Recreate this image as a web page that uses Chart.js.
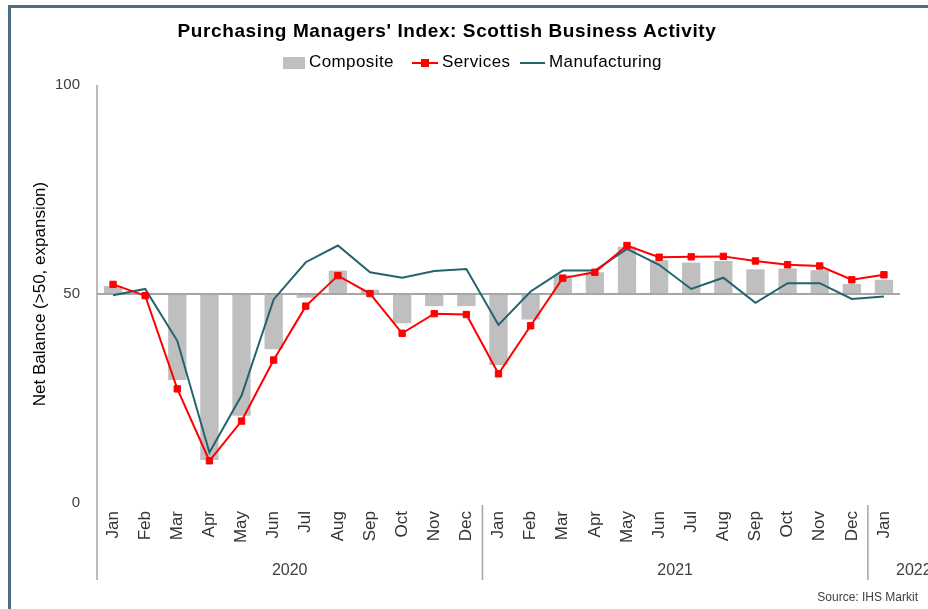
<!DOCTYPE html>
<html>
<head>
<meta charset="utf-8">
<script src="https://cdn.jsdelivr.net/npm/chart.js@4.4.1/dist/chart.umd.min.js"></script>
<style>
  html, body { margin: 0; padding: 0; background: #fff; }
  #wrap { position: relative; width: 928px; height: 609px; overflow: hidden; font-family: "Liberation Sans", Arial, sans-serif; }
  #frame { position: absolute; left: 8px; top: 5px; width: 940px; height: 620px; border-left: 3px solid #4d6c80; border-top: 3px solid #4d6c80; box-sizing: border-box; }
  #title { position: absolute; left: 0; width: 894px; top: 20px; text-align: center; font-weight: bold; font-size: 19px; letter-spacing: 0.6px; color: #000; }
  .leg { position: absolute; top: 52px; font-size: 17px; letter-spacing: 0.4px; color: #000; white-space: nowrap; }
  .sw { position: absolute; }
  #source { position: absolute; right: 10px; top: 590px; font-size: 12px; color: #404040; }
  canvas { position: absolute; left: 0; top: 0; }
</style>
</head>
<body>
<div id="wrap">
  <canvas id="pmi" width="928" height="609"></canvas>
  <div id="frame"></div>
  <div id="title">Purchasing Managers' Index: Scottish Business Activity</div>
  <div class="sw" style="left:283px;top:57px;width:22px;height:12px;background:#bfbfbf"></div>
  <div class="leg" style="left:309px">Composite</div>
  <div class="sw" style="left:412px;top:62px;width:26px;height:2px;background:#ff0000"></div>
  <div class="sw" style="left:421px;top:59px;width:8px;height:8px;background:#ff0000"></div>
  <div class="leg" style="left:442px">Services</div>
  <div class="sw" style="left:520px;top:62px;width:25px;height:2px;background:#22646e"></div>
  <div class="leg" style="left:549px">Manufacturing</div>
  <div id="source">Source: IHS Markit</div>
</div>
<script>
// Scottish PMI, Jan 2020 - Jan 2022
const months = ["Jan","Feb","Mar","Apr","May","Jun","Jul","Aug","Sep","Oct","Nov","Dec",
                "Jan","Feb","Mar","Apr","May","Jun","Jul","Aug","Sep","Oct","Nov","Dec","Jan"];
const years = ["2020", "2021", "2022"];
const yearSpans = [12, 12, 1];
const BASE = 50; // bars hang from the 50 no-change line

const composite = [51.9, 50.2, 29.4, 10.3, 20.9, 36.8, 49.1, 55.6, 51.0, 43.0, 47.1, 47.1,
                   33.0, 43.9, 54.5, 55.2, 61.3, 58.1, 57.5, 57.9, 55.9, 56.1, 55.7, 52.4, 53.4];
const services = [52.3, 49.6, 27.3, 10.1, 19.6, 34.2, 47.1, 54.4, 50.1, 40.6, 45.3, 45.1,
                  30.9, 42.4, 53.8, 55.2, 61.6, 58.8, 58.9, 59.0, 57.9, 57.0, 56.7, 53.4, 54.6];
const manufacturing = [49.7, 51.2, 38.8, 12.1, 25.7, 48.7, 57.6, 61.6, 55.2, 53.9, 55.5, 56.0,
                       42.6, 50.6, 55.6, 55.6, 60.8, 57.0, 51.2, 53.9, 47.9, 52.6, 52.6, 48.8, 49.4];

const AXIS_GREY = "#a6a6a6";
const FONT = "'Liberation Sans', Arial, sans-serif";

// Excel-style axis bits: the 50 line, year separators and year labels.
const excelAxes = {
  id: "excelAxes",
  afterDatasetDraw(chart, args) {
    if (args.index !== 0) return; // draw right after the bars
    const { ctx, chartArea } = chart;
    const y50 = chart.scales.y.getPixelForValue(BASE);
    ctx.save();
    ctx.strokeStyle = AXIS_GREY;
    ctx.lineWidth = 2;
    ctx.beginPath();
    ctx.moveTo(chartArea.left, y50);
    ctx.lineTo(chartArea.right, y50);
    ctx.stroke();
    ctx.restore();
  },
  afterDraw(chart) {
    const { ctx, chartArea } = chart;
    const catW = (chartArea.right - chartArea.left) / months.length;
    const bottom = 580;
    ctx.save();
    ctx.strokeStyle = AXIS_GREY;
    ctx.lineWidth = 1.5;
    ctx.beginPath();
    ctx.moveTo(chartArea.left, chartArea.top);
    ctx.lineTo(chartArea.left, bottom);
    ctx.stroke();
    ctx.fillStyle = "#404040";
    ctx.font = "16px " + FONT;
    ctx.textBaseline = "middle";
    let start = 0;
    years.forEach((yr, i) => {
      const x0 = chartArea.left + start * catW;
      const x1 = x0 + yearSpans[i] * catW;
      if (i > 0) {
        ctx.beginPath();
        ctx.moveTo(x0, chartArea.bottom + 2);
        ctx.lineTo(x0, bottom);
        ctx.stroke();
      }
      if (yearSpans[i] > 2) {
        ctx.textAlign = "center";
        ctx.fillText(yr, (x0 + x1) / 2, 571);
      } else {
        ctx.textAlign = "left";
        ctx.fillText(yr, x1 - 4, 571);
      }
      start += yearSpans[i];
    });
    ctx.restore();
  }
};

new Chart(document.getElementById("pmi"), {
  data: {
    labels: months,
    datasets: [
      {
        type: "bar", label: "Composite", order: 3,
        data: composite.map(v => [BASE, v]),
        backgroundColor: "#bfbfbf",
        barPercentage: 0.57, categoryPercentage: 1,
      },
      {
        type: "line", label: "Manufacturing", order: 2,
        data: manufacturing,
        borderColor: "#22646e", borderWidth: 2,
        pointRadius: 0, tension: 0,
      },
      {
        type: "line", label: "Services", order: 1,
        data: services,
        borderColor: "#ff0000", borderWidth: 2,
        pointStyle: "rect", pointRadius: 4.5, pointBorderWidth: 1,
        pointBackgroundColor: "#ff0000", pointBorderColor: "#ff0000",
        tension: 0,
      },
    ],
  },
  options: {
    responsive: false,
    animation: false,
    layout: { padding: { top: 85, right: 28, left: 0, bottom: 0 } },
    plugins: { legend: { display: false }, title: { display: false }, tooltip: { enabled: false } },
    scales: {
      x: {
        type: "category", offset: true,
        grid: { display: false, drawTicks: false },
        border: { display: false },
        ticks: {
          autoSkip: false, maxRotation: 90, minRotation: 90, padding: 8,
          color: "#333", font: { family: FONT, size: 17 },
        },
        afterFit(scale) { scale.height = 106; },
      },
      y: {
        min: 0, max: 100,
        grid: { display: false, drawTicks: false },
        border: { display: false },
        ticks: { stepSize: 50, padding: 17, color: "#404040", font: { family: FONT, size: 15 } },
        title: {
          display: true, text: "Net Balance (>50, expansion)",
          color: "#000", font: { family: FONT, size: 17 },
          padding: { top: 30, bottom: 0 },
        },
        afterFit(scale) { scale.width = 97; },
      },
    },
  },
  plugins: [excelAxes],
});
</script>
</body>
</html>
